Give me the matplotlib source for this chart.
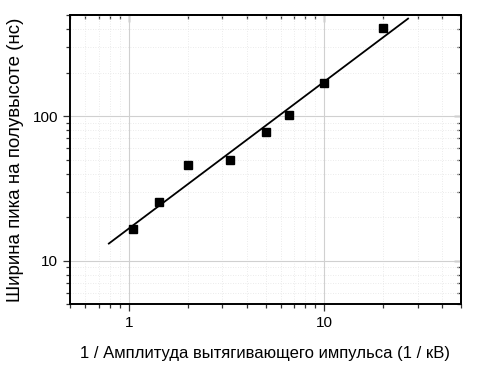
import matplotlib
matplotlib.use("Agg")
import matplotlib.pyplot as plt
from matplotlib.ticker import LogLocator, NullFormatter, FixedLocator, FixedFormatter

plt.rcParams['font.family'] = ['Liberation Sans', 'DejaVu Sans']

inv_amp = [1.05, 1.42, 2.0, 3.31, 5.0, 6.63, 10.0, 20.0]
fwhm_ns = [16.4, 25.3, 45.7, 49.4, 77.4, 101.6, 169.0, 408.0]
fit_x = [0.79, 26.8]
fit_y = [13.1, 472.0]
x_ticks = [1, 10]
x_tick_labels = ['1', '10']
y_ticks = [10, 100]
y_tick_labels = ['10', '100']

fig = plt.figure(figsize=(4.78, 3.71), dpi=100)
ax = fig.add_axes([70/478, 1 - 304/371, (461-70)/478, (304-15)/371])
ax.set_xscale('log')
ax.set_yscale('log')
ax.set_xlim(0.5, 50)
ax.set_ylim(5, 500)

ax.grid(True, which='major', color='#d0d0d0', lw=0.8, ls='-')
ax.grid(True, which='minor', color='#e4e4e4', lw=0.6, ls=(0, (1, 2)))
ax.set_axisbelow(True)

ax.plot(fit_x, fit_y, color='black', lw=1.3, zorder=3)
ax.plot(inv_amp, fwhm_ns, ls='none', marker='s', ms=5.8, color='black', zorder=4)

ax.xaxis.set_major_locator(FixedLocator(x_ticks))
ax.xaxis.set_major_formatter(FixedFormatter(x_tick_labels))
ax.yaxis.set_major_locator(FixedLocator(y_ticks))
ax.yaxis.set_major_formatter(FixedFormatter(y_tick_labels))
ax.xaxis.set_minor_locator(LogLocator(base=10, subs=range(2, 10), numticks=20))
ax.yaxis.set_minor_locator(LogLocator(base=10, subs=range(2, 10), numticks=20))
ax.xaxis.set_minor_formatter(NullFormatter())
ax.yaxis.set_minor_formatter(NullFormatter())

ax.tick_params(axis='both', which='both', labelsize=11, width=0.9, color='#333333')
ax.tick_params(axis='x', which='major', direction='out', length=5, top=False)
ax.tick_params(axis='x', which='minor', direction='out', length=3, top=False)
ax.tick_params(axis='y', which='major', direction='out', length=5, right=False)
ax.tick_params(axis='y', which='minor', direction='out', length=3, right=False)

# inward ticks on top and right
axt = ax.secondary_xaxis('top')
axt.xaxis.set_major_locator(FixedLocator(x_ticks))
axt.xaxis.set_minor_locator(LogLocator(base=10, subs=range(2, 10), numticks=20))
axt.xaxis.set_major_formatter(NullFormatter())
axt.xaxis.set_minor_formatter(NullFormatter())
axt.tick_params(which='major', direction='in', length=5, width=0.9, color='#333333')
axt.tick_params(which='minor', direction='in', length=3, width=0.9, color='#333333')
axr = ax.secondary_yaxis('right')
axr.yaxis.set_major_locator(FixedLocator(y_ticks))
axr.yaxis.set_minor_locator(LogLocator(base=10, subs=range(2, 10), numticks=20))
axr.yaxis.set_major_formatter(NullFormatter())
axr.yaxis.set_minor_formatter(NullFormatter())
axr.tick_params(which='major', direction='in', length=5, width=0.9, color='#333333')
axr.tick_params(which='minor', direction='in', length=3, width=0.9, color='#333333')

for s in ax.spines.values():
    s.set_linewidth(1.4)
axt.spines['top'].set_linewidth(1.4)
axr.spines['right'].set_linewidth(1.4)

ax.set_xlabel('1 / Амплитуда вытягивающего импульса (1 / кВ)', fontsize=12, labelpad=12)
ax.set_ylabel('Ширина пика на полувысоте (нс)', fontsize=13.5, labelpad=6)

fig.savefig('out.png', dpi=100)
